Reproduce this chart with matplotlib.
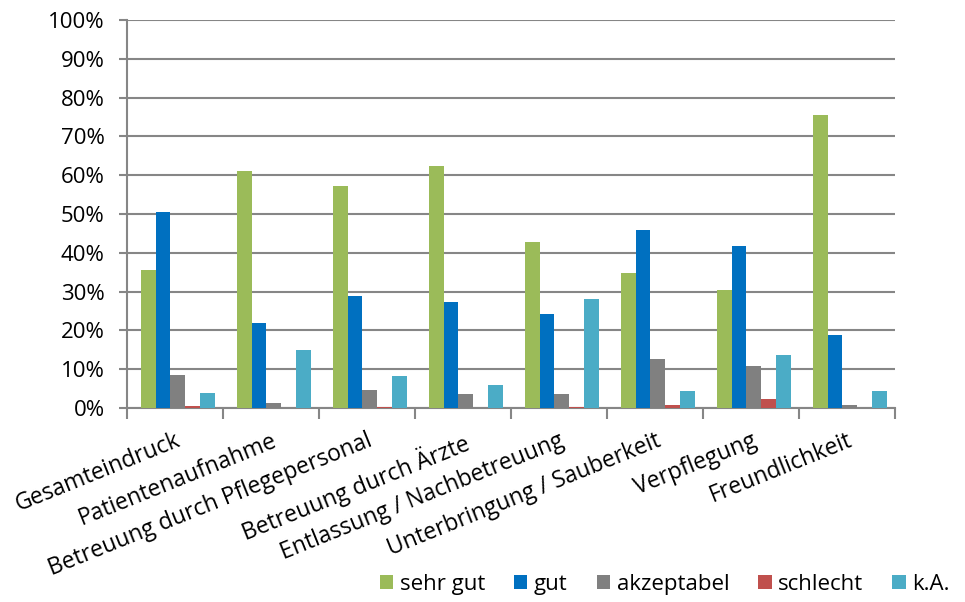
import matplotlib
matplotlib.use("Agg")
import matplotlib.pyplot as plt
import numpy as np
from matplotlib.ticker import FixedLocator, PercentFormatter

categories = ["Gesamteindruck", "Patientenaufnahme", "Betreuung durch Pflegepersonal",
              "Betreuung durch Ärzte", "Entlassung / Nachbetreuung",
              "Unterbringung / Sauberkeit", "Verpflegung", "Freundlichkeit"]
series_names = ["sehr gut", "gut", "akzeptabel", "schlecht", "k.A."]
sehr_gut   = [35.6, 61.1, 57.1, 62.3, 42.8, 34.7, 30.3, 75.5]
gut        = [50.5, 21.8, 28.8, 27.2, 24.2, 45.8, 41.8, 18.8]
akzeptabel = [8.5, 1.3, 4.7, 3.6, 3.6, 12.7, 10.8, 0.7]
schlecht   = [0.6, 0.0, 0.35, 0.0, 0.3, 0.8, 2.3, 0.0]
ka         = [3.9, 15.0, 8.2, 5.9, 28.1, 4.5, 13.7, 4.3]
colors = ["#9BBB59", "#0070C0", "#808080", "#C0504D", "#4BACC6"]

plt.rcParams['font.family'] = ['Open Sans', 'DejaVu Sans']

fig = plt.figure(figsize=(9.65, 6.02), dpi=100)
ax = fig.add_axes([0.1316, 0.3223, 0.7959, 0.6445])

x = np.arange(len(categories))
w = 0.155
data = [sehr_gut, gut, akzeptabel, schlecht, ka]
for i, (vals, name, c) in enumerate(zip(data, series_names, colors)):
    ax.bar(x + (i - 2) * w + 0.03, vals, width=w, color=c, label=name, zorder=3)

ax.set_ylim(0, 100)
ax.set_xlim(-0.5, len(categories) - 0.5)
ax.set_yticks(np.arange(0, 101, 10))
ax.yaxis.set_major_formatter(PercentFormatter(decimals=0))
ax.yaxis.grid(True, color="#868686", linewidth=1.5, zorder=0)
ax.set_axisbelow(True)

ax.set_xticks(x)
ax.set_xticklabels(categories, rotation=22, ha='right', rotation_mode='anchor', fontsize=16.5)
ax.xaxis.set_minor_locator(FixedLocator(np.arange(-0.5, len(categories), 1.0)))
ax.tick_params(axis='x', which='major', length=0, pad=15)
ax.tick_params(axis='x', which='minor', length=8, width=1.5, color="#868686")
ax.tick_params(axis='y', length=6, width=1.5, color="#868686", labelsize=16, pad=10)

for s in ['top', 'right']:
    ax.spines[s].set_visible(False)
for s in ['left', 'bottom']:
    ax.spines[s].set_color("#868686")
    ax.spines[s].set_linewidth(1.5)

fig.legend(loc='lower right', bbox_to_anchor=(1.005, -0.022), ncol=5, frameon=False,
           fontsize=16, handlelength=0.6, handleheight=0.6, handletextpad=0.3,
           columnspacing=1.3)

fig.savefig("out.png", dpi=100)
